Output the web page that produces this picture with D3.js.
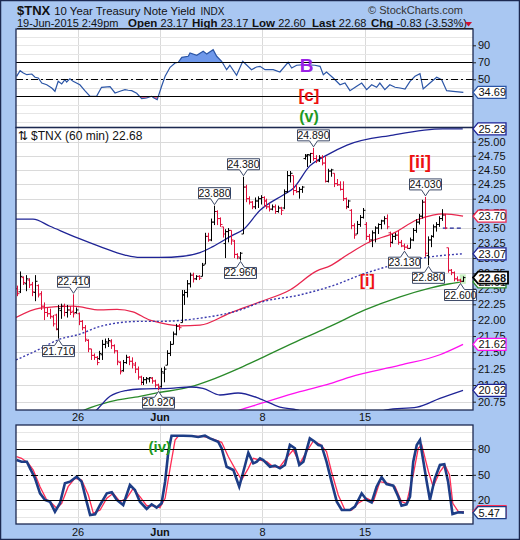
<!DOCTYPE html>
<html>
<head>
<meta charset="utf-8">
<script src="https://cdn.jsdelivr.net/npm/d3@7/dist/d3.min.js"></script>
<style>
html,body{margin:0;padding:0;background:#fff;}
svg{display:block;}
text{font-family:"Liberation Sans",Arial,Helvetica,sans-serif;}
</style>
</head>
<body>
<svg id="chart" width="520" height="540"></svg>
<script>
// ================= DATA =================
const dayTickIdx = [21, 49, 84, 119];
const dayTickLabels = ["26", "Jun", "8", "15"];
const priceTicks = [20.75, 21.00, 21.25, 21.50, 21.75, 22.00, 22.25, 22.50, 22.75, 23.00, 23.25, 23.50, 23.75, 24.00, 24.25, 24.50, 24.75, 25.00];
const rsiTicks = [90, 70, 50];
const stochTicks = [80, 50, 20];
const rsiLevels = [70, 50, 30];
const stochLevels = [80, 50, 20];

// hourly OHLC bars (20-May .. 19-Jun 2015)
const opens = [
22.50,22.45,22.68,22.58,22.64,22.57,22.44,
22.55,22.42,22.22,22.12,22.10,22.05,22.08,
21.86,22.15,22.22,22.12,22.16,22.14,22.12,
22.10,21.98,21.88,21.68,21.55,21.45,21.42,
21.40,21.46,21.62,21.64,21.66,21.60,21.52,
21.34,21.22,21.34,21.42,21.36,21.30,21.24,
21.12,21.04,21.08,21.09,21.10,21.06,21.00,
20.98,21.18,21.30,21.48,21.62,21.78,21.90,
21.96,22.40,22.44,22.58,22.72,22.66,22.70,
22.70,22.90,23.36,23.30,23.60,23.78,23.66,
23.52,23.24,23.44,23.46,23.28,23.06,23.00,
23.40,24.20,24.00,23.94,23.86,23.96,24.00,
24.02,23.96,23.86,23.82,23.86,23.78,23.84,
23.84,24.12,24.40,24.40,24.14,24.12,24.16,
24.70,24.74,24.76,24.79,24.70,24.66,24.72,
24.62,24.30,24.48,24.44,24.26,24.24,24.16,
24.00,23.86,23.80,23.54,23.40,23.56,23.68,
23.56,23.36,23.30,23.42,23.50,23.56,23.62,
23.66,23.42,23.26,23.36,23.38,23.26,23.20,
23.18,23.16,23.30,23.46,23.60,23.70,23.94,
23.04,23.30,23.36,23.52,23.56,23.66,23.72,
23.17,22.80,22.76,22.66,22.64,22.62];
const highs = [
22.55,22.78,22.70,22.72,22.67,22.61,22.72,
22.57,22.46,22.28,22.20,22.18,22.08,22.10,
22.24,22.26,22.26,22.24,22.22,22.41,22.20,
22.12,22.00,21.92,21.70,21.55,21.48,21.44,
21.52,21.69,21.71,21.72,21.70,21.62,21.53,
21.36,21.38,21.46,21.44,21.42,21.35,21.28,
21.14,21.12,21.12,21.12,21.12,21.08,21.02,
21.26,21.28,21.53,21.67,21.82,21.94,21.94,
22.48,22.48,22.64,22.76,22.76,22.72,22.72,
22.92,23.42,23.42,23.66,23.88,23.80,23.68,
23.52,23.48,23.50,23.46,23.30,23.08,23.10,
24.38,24.24,24.04,23.96,24.02,24.04,24.06,
24.04,24.00,23.92,23.90,23.90,23.88,23.86,
24.16,24.48,24.48,24.40,24.24,24.20,24.22,
24.78,24.78,24.80,24.89,24.76,24.76,24.76,
24.74,24.52,24.52,24.44,24.34,24.30,24.30,
24.02,23.98,23.82,23.58,23.62,23.72,23.84,
23.60,23.40,23.46,23.53,23.58,23.64,23.70,
23.73,23.44,23.40,23.42,23.46,23.30,23.24,
23.22,23.34,23.50,23.65,23.74,23.98,24.03,
23.36,23.38,23.56,23.60,23.70,23.82,23.74,
23.17,22.82,22.78,22.70,22.66,22.70];
const lows = [
22.38,22.43,22.56,22.46,22.51,22.38,22.30,
22.36,22.16,22.00,22.05,22.02,21.90,21.84,
21.71,22.02,22.06,22.04,22.08,22.04,22.10,
21.92,21.84,21.66,21.50,21.38,21.38,21.30,
21.38,21.38,21.56,21.58,21.55,21.48,21.30,
21.16,21.20,21.32,21.30,21.25,21.18,21.08,
21.00,21.00,21.02,21.04,21.02,20.96,20.92,
20.96,21.04,21.30,21.44,21.62,21.76,21.84,
21.96,22.24,22.36,22.52,22.60,22.64,22.64,
22.70,22.90,23.27,23.28,23.55,23.55,23.52,
23.34,23.00,23.26,23.22,23.00,22.98,22.96,
23.40,23.94,23.90,23.82,23.82,23.84,23.90,
23.86,23.82,23.78,23.80,23.74,23.76,23.72,
23.82,24.10,24.28,24.06,24.10,24.00,24.10,
24.68,24.55,24.62,24.66,24.62,24.64,24.58,
24.28,24.28,24.38,24.20,24.22,24.14,23.96,
23.82,23.84,23.48,23.32,23.40,23.52,23.66,
23.30,23.26,23.18,23.26,23.40,23.48,23.56,
23.48,23.18,23.24,23.30,23.22,23.18,23.13,
23.15,23.16,23.28,23.42,23.56,23.66,23.02,
22.88,23.18,23.34,23.44,23.52,23.62,23.48,
22.76,22.72,22.62,22.62,22.60,22.61];
const closes = [
22.42,22.70,22.60,22.66,22.56,22.45,22.62,
22.40,22.22,22.12,22.10,22.06,21.94,21.85,
22.18,22.22,22.12,22.16,22.12,22.10,22.16,
21.98,21.88,21.70,21.55,21.45,21.42,21.34,
21.48,21.62,21.66,21.68,21.60,21.52,21.36,
21.20,21.34,21.42,21.36,21.32,21.24,21.12,
21.04,21.08,21.10,21.11,21.06,21.00,20.96,
21.20,21.24,21.48,21.62,21.78,21.90,21.88,
22.40,22.44,22.58,22.72,22.66,22.70,22.67,
22.88,23.36,23.30,23.60,23.78,23.66,23.56,
23.40,23.44,23.46,23.30,23.06,23.02,23.08,
24.20,24.00,23.94,23.86,23.96,24.00,24.02,
23.96,23.86,23.82,23.86,23.78,23.84,23.80,
24.12,24.40,24.44,24.14,24.12,24.16,24.20,
24.76,24.77,24.79,24.70,24.66,24.72,24.62,
24.30,24.48,24.50,24.26,24.24,24.16,24.00,
23.86,23.96,23.54,23.38,23.56,23.68,23.80,
23.36,23.30,23.42,23.50,23.56,23.62,23.66,
23.52,23.26,23.36,23.38,23.26,23.20,23.18,
23.16,23.30,23.46,23.60,23.70,23.94,23.08,
23.30,23.36,23.52,23.56,23.66,23.72,23.50,
22.80,22.76,22.66,22.64,22.62,22.68];

// labelled highs / lows
const calloutIdx  = [19, 14, 48, 67, 76, 77, 101, 139, 132, 140, 151];
const calloutVal  = [22.41, 21.71, 20.92, 23.88, 22.96, 24.38, 24.89, 24.03, 23.13, 22.88, 22.60];
const calloutHigh = [true, false, false, true, false, true, true, true, false, false, false];

const prevClose = 23.50;

// overlays: [position, value]
const upperBand = [[0,23.65],[5.8,23.65],[11.6,23.53],[21.2,23.33],[28.7,23.19],[37.2,23.05],[42.3,23.01],[49.1,23.01],[57,23.03],[62.8,23.09],[67.2,23.19],[74,23.38],[77.5,23.47],[83.3,23.80],[91.1,24.06],[94.5,24.17],[100.3,24.57],[106.1,24.76],[113,24.94],[128.7,25.12],[145.7,25.23],[152.5,25.23]];
const lowerBand = [[22,20.40],[27.6,20.63],[32.1,20.83],[37.9,20.92],[42.3,20.94],[52.6,20.95],[59.4,20.97],[63.8,20.95],[69.6,20.85],[75.8,20.88],[82.3,20.81],[84,20.78],[90.1,20.67],[95.9,20.63],[105,20.48],[116,20.50],[126.6,20.63],[136.9,20.67],[144.7,20.80],[152.6,20.92]];
const redMA = [[0,22.04],[8.2,22.19],[19.5,22.22],[28.7,22.16],[34.5,22.17],[39.9,22.13],[45.7,22.00],[49.1,21.96],[56,21.91],[62.8,21.92],[73,22.11],[83.3,22.29],[93.5,22.48],[102.7,22.79],[107.2,22.87],[113,23.05],[120.8,23.27],[128.7,23.41],[136.9,23.64],[142.3,23.72],[145.7,23.74],[152.6,23.70]];
const dottedMA = [[0,21.38],[8.2,21.55],[14.3,21.69],[21.8,21.78],[28.7,21.90],[35.5,21.96],[42.3,21.98],[49.1,21.98],[62.8,22.03],[76.5,22.16],[83.3,22.28],[96.9,22.40],[110.6,22.59],[117.4,22.72],[125.3,22.84],[138.9,23.00],[152.6,23.07]];
const greenMA = [[18,20.52],[23.5,20.63],[32.1,20.75],[42.3,20.83],[48.1,20.88],[59.4,20.97],[66.2,21.07],[76.5,21.26],[83.3,21.40],[96.9,21.69],[107.2,21.90],[119.1,22.16],[131.1,22.37],[141.3,22.51],[148.1,22.58],[152.6,22.61]];
const magentaMA = [[70,20.55],[76.5,20.63],[83.3,20.72],[96.9,20.90],[107.2,21.02],[114,21.12],[131.1,21.30],[144.7,21.46],[152.6,21.62]];

const rsi = [[0.2,53.5],[1.4,60.1],[2.5,57.4],[3.7,55.4],[5.4,56.2],[6.5,52.4],[7.6,51.5],[8.8,45.6],[10.5,43.6],[12.2,39.8],[13.3,35.9],[14.4,47.6],[15.6,44.5],[16.7,49.5],[17.3,46.8],[18.4,50.7],[19.5,47.6],[21.8,43.6],[23.5,36.6],[25.3,30.0],[27.5,30.0],[29.2,40.6],[32.1,41.3],[33.8,33.9],[35.5,35.9],[37.2,37.8],[38.3,37.1],[39.5,36.6],[41.2,33.5],[42.9,27.2],[44.6,28.0],[46.3,30.0],[47.1,28.0],[48.2,26.0],[49.7,41.8],[50.9,53.5],[52.6,64.1],[54.3,69.2],[55.4,70.0],[56.6,75.9],[58.8,77.1],[59.4,80.9],[61.7,78.2],[63.9,82.9],[65.1,79.8],[67.3,84.8],[68.5,77.1],[70.2,71.2],[71.9,61.3],[73.0,66.5],[75.3,54.7],[77.4,71.2],[80.4,61.3],[82.1,64.5],[83.3,65.3],[85.0,61.3],[87.8,61.3],[90.1,58.6],[92.9,70.0],[94.1,63.3],[95.8,66.5],[98.6,67.2],[102.0,66.5],[103.8,65.3],[104.9,55.4],[106.0,58.6],[108.3,51.5],[110.6,43.6],[112.3,45.6],[114.0,36.6],[116.3,41.8],[118.0,45.6],[119.7,37.8],[121.4,43.6],[123.1,40.6],[124.2,45.6],[125.9,37.8],[127.6,43.6],[129.4,40.6],[131.1,39.8],[132.8,38.6],[134.5,47.6],[136.2,53.5],[137.9,56.6],[139.0,38.6],[141.3,45.6],[143.6,52.4],[145.3,49.5],[147.0,36.6],[149.2,35.9],[152.7,34.69]];

const stochK = [[0.2,67.4],[1.9,65.4],[3.7,65.4],[4.8,57.6],[6.5,45.9],[8.2,28.2],[9.9,20.4],[11.6,18.4],[13.3,6.6],[15.0,16.5],[16.7,40.0],[18.4,41.9],[20.7,47.8],[22.4,41.9],[24.1,18.4],[25.3,2.7],[27.0,3.5],[28.7,14.5],[31.0,28.2],[32.7,29.4],[34.4,20.4],[36.6,14.5],[38.9,38.0],[40.6,32.1],[42.3,18.4],[44.6,9.8],[46.3,15.3],[48.0,11.3],[49.7,16.5],[50.9,41.9],[52.0,77.2],[53.1,96.0],[57.1,96.0],[60.0,95.6],[62.2,94.5],[64.5,96.0],[66.2,92.9],[69.0,88.9],[70.2,81.2],[71.9,59.5],[74.2,55.6],[76.2,36.0],[77.6,53.6],[79.3,76.0],[81.0,63.5],[82.2,65.4],[83.3,69.4],[84.4,67.4],[86.7,59.5],[88.4,60.7],[90.1,57.6],[91.8,61.5],[93.5,85.1],[95.2,81.2],[96.7,61.5],[98.1,65.4],[100.3,92.9],[102.0,88.9],[103.2,85.1],[104.3,84.2],[106.0,65.4],[107.7,41.9],[109.5,18.4],[111.2,8.6],[114.0,8.6],[115.7,12.5],[118.0,28.2],[119.7,20.4],[121.4,17.6],[123.1,36.0],[124.8,47.1],[126.5,39.2],[128.8,37.2],[130.5,24.2],[131.6,13.6],[133.3,15.3],[134.5,24.2],[135.6,65.4],[136.8,85.1],[137.9,90.9],[138.8,71.3],[140.2,41.9],[141.3,20.4],[143.0,45.9],[144.7,61.5],[146.2,62.4],[147.5,41.9],[149.0,3.9],[151.0,5.9],[152.9,5.47]];
const stochD = [[0.2,71.3],[1.9,69.4],[4.2,63.5],[5.9,55.6],[8.2,36.0],[10.5,20.4],[12.2,16.5],[13.9,10.6],[15.6,16.5],[17.8,36.0],[20.1,45.9],[22.4,43.9],[24.7,26.2],[26.4,4.7],[28.7,8.6],[31.0,22.4],[33.2,28.2],[35.5,18.4],[37.8,22.4],[40.0,34.1],[42.3,24.2],[44.6,13.6],[46.9,13.6],[49.1,11.3],[50.9,22.4],[52.6,57.6],[54.3,90.9],[55.4,95.6],[60.0,95.3],[63.9,95.3],[67.3,91.9],[70.2,88.2],[72.5,71.3],[74.7,57.6],[77.0,43.9],[79.3,57.6],[81.0,69.4],[83.3,67.4],[85.6,65.4],[87.8,59.5],[90.1,59.5],[92.2,69.4],[94.6,79.2],[96.9,63.5],[99.2,77.2],[101.5,89.8],[103.8,85.9],[106.0,77.2],[107.7,53.6],[110.0,26.2],[112.3,8.6],[114.6,8.6],[116.8,16.5],[119.7,22.4],[122.0,18.4],[124.2,41.9],[127.1,40.0],[129.4,36.0],[131.6,18.4],[133.3,16.5],[135.6,49.8],[137.3,81.2],[138.5,85.1],[140.8,53.6],[142.4,36.0],[144.7,53.6],[146.4,61.5],[148.0,49.8],[149.1,16.5],[151.0,6.6],[152.9,6.6]];

// wave annotations: [text, position, value, panel, colour, size]
const waveLabels = [
  ["B", 99.2, 67.2, "rsi", "#9a22e6", 19],
  ["[c]", 100.0, 31.9, "rsi", "#ee1010", 17],
  ["(v)", 100.0, 6.3, "rsi", "#1f9a1f", 16],
  ["[ii]", 137.9, 24.64, "price", "#ee1010", 18],
  ["[i]", 119.9, 22.64, "price", "#ee1010", 16],
  ["(iv)", 49.1, 83.1, "stoch", "#1f9a1f", 15]
];

const headerTitle = ["$TNX", "10 Year Treasury Note Yield", "INDX"];
const headerStats = [["Open","23.17"],["High","23.17"],["Low","22.60"],["Last","22.68"],["Chg","-0.83 (-3.53%)"]];
const headerDate = "19-Jun-2015 2:49pm";

// ================= LAYOUT =================
const W = 520, H = 540, L = 16, R = 473;
const P = { rsi: [29, 127.5], price: [127.5, 410], stoch: [425, 524] };
const svg = d3.select("#chart");
const X = d3.scaleLinear().domain([0, 156]).range([L, R]);
const Y = d3.scaleLog().domain([20.75, 25]).range([401.7, 141.7]);
const RY = d3.scaleLinear().domain([0, 100]).range([121.8, 36.8]);
const SY = d3.scaleLinear().domain([0, 100]).range([517.3, 432.3]);

const NAVY = "#1f2496", RED = "#e0103c", FRAME = "#1c2951", GRID = "#dadada";

svg.append("rect").attr("width", W).attr("height", H).attr("fill", "#a9c7f2");
const defs = svg.append("defs");
Object.entries(P).forEach(([k, [t, b]]) => {
  defs.append("clipPath").attr("id", "clip-" + k).append("rect")
    .attr("x", L).attr("y", t).attr("width", R - L).attr("height", b - t);
  svg.append("rect").attr("x", L).attr("y", t).attr("width", R - L).attr("height", b - t).attr("fill", "#fff");
});
defs.append("clipPath").attr("id", "clip-rsi-hi").append("rect")
  .attr("x", L).attr("y", P.rsi[0]).attr("width", R - L).attr("height", RY(70) - P.rsi[0]);
defs.append("clipPath").attr("id", "clip-rsi-lo").append("rect")
  .attr("x", L).attr("y", RY(30)).attr("width", R - L).attr("height", P.rsi[1] - RY(30));

// ---------- grids ----------
const grid = svg.append("g");
Object.entries(P).forEach(([k, [t, b]]) => {
  grid.selectAll(null).data(dayTickIdx).join("line")
    .attr("x1", d => Math.round(X(d)) + 0.5).attr("x2", d => Math.round(X(d)) + 0.5)
    .attr("y1", t).attr("y2", b).attr("stroke", GRID);
});
grid.selectAll(null).data(priceTicks).join("line")
  .attr("x1", L).attr("x2", R).attr("y1", d => Math.round(Y(d)) + 0.5).attr("y2", d => Math.round(Y(d)) + 0.5)
  .attr("stroke", GRID);
const tens = d3.range(0, 101, 10);
grid.selectAll(null).data(tens).join("line")
  .attr("x1", L).attr("x2", R).attr("y1", d => Math.round(RY(d)) + 0.5).attr("y2", d => Math.round(RY(d)) + 0.5)
  .attr("stroke", "#e6e6e6");
grid.selectAll(null).data(tens).join("line")
  .attr("x1", L).attr("x2", R).attr("y1", d => Math.round(SY(d)) + 0.5).attr("y2", d => Math.round(SY(d)) + 0.5)
  .attr("stroke", "#e6e6e6");

function levels(scale, vals) {
  svg.append("g").selectAll(null).data(vals).join("line")
    .attr("x1", L).attr("x2", R)
    .attr("y1", d => Math.round(scale(d)) + 0.5).attr("y2", d => Math.round(scale(d)) + 0.5)
    .attr("stroke", "#000").attr("stroke-width", 1.2)
    .attr("stroke-dasharray", d => d === 50 ? "7,3,2,3" : null);
}

// ---------- RSI panel ----------
const rsiG = svg.append("g").attr("clip-path", "url(#clip-rsi)");
const rx = d => X(d[0]);
rsiG.append("path").datum(rsi).attr("clip-path", "url(#clip-rsi-hi)")
  .attr("d", d3.area().x(rx).y0(RY(70)).y1(d => RY(d[1])))
  .attr("fill", "#6f98ea");
rsiG.append("path").datum(rsi).attr("clip-path", "url(#clip-rsi-lo)")
  .attr("d", d3.area().x(rx).y0(RY(30)).y1(d => RY(d[1])))
  .attr("fill", "#ee6f92");
levels(RY, rsiLevels);
rsiG.append("path").datum(rsi).attr("d", d3.line().x(rx).y(d => RY(d[1])))
  .attr("fill", "none").attr("stroke", "#2b55a6").attr("stroke-width", 1.2);

// ---------- price panel ----------
const pg = svg.append("g").attr("clip-path", "url(#clip-price)");
const ov = (data, color, w, dash) => pg.append("path").datum(data)
  .attr("d", d3.line().curve(d3.curveMonotoneX).x(rx).y(d => Y(d[1])))
  .attr("fill", "none").attr("stroke", color).attr("stroke-width", w).attr("stroke-dasharray", dash || null);
ov(magentaMA, "#ff10f0", 1.3);
ov(greenMA, "#2a8a2a", 1.3);
ov(lowerBand, NAVY, 1.3);
ov(upperBand, NAVY, 1.3);
ov(redMA, "#e8264e", 1.3);
ov(dottedMA, "#3a3aae", 1.4, "2,2");
pg.append("line").attr("x1", X(145.7)).attr("x2", X(152.6))
  .attr("y1", Y(prevClose)).attr("y2", Y(prevClose))
  .attr("stroke", NAVY).attr("stroke-width", 1.2).attr("stroke-dasharray", "4,3");

// last-bar highlight
const lastI = closes.length - 1;
pg.append("rect").attr("x", X(lastI + 0.5) - 3).attr("width", 6)
  .attr("y", Y(highs[lastI]) - 2).attr("height", Y(lows[lastI]) - Y(highs[lastI]) + 4)
  .attr("fill", "#c9efc1");

const bars = pg.append("g");
closes.forEach((c, i) => {
  const up = i === 0 ? c >= opens[i] : c >= closes[i - 1];
  const col = up ? "#000" : RED;
  const cx = Math.round(X(i + 0.5)) + 0.5;
  bars.append("line").attr("x1", cx).attr("x2", cx).attr("y1", Y(highs[i])).attr("y2", Y(lows[i])).attr("stroke", col);
  bars.append("line").attr("x1", cx - 2).attr("x2", cx).attr("y1", Y(opens[i])).attr("y2", Y(opens[i])).attr("stroke", col);
  bars.append("line").attr("x1", cx).attr("x2", cx + 2).attr("y1", Y(c)).attr("y2", Y(c)).attr("stroke", col);
});

// callouts
const cg = svg.append("g");
calloutIdx.forEach((idx, k) => {
  const v = calloutVal[k], hi = calloutHigh[k];
  const cx = Math.round(X(idx + 0.5)) + 0.5;
  const tip = Y(v) + (hi ? -1 : 1);
  const w = 32, h = 11, gap = 6;
  const x0 = cx - w / 2, x1 = cx + w / 2;
  let d, yb;
  if (hi) {
    yb = tip - gap; const yt = yb - h;
    d = `M${x0},${yt}H${x1}V${yb}H${cx + 4}L${cx},${tip}L${cx - 4},${yb}H${x0}Z`;
  } else {
    const yt = tip + gap; yb = yt + h;
    d = `M${x0},${yt}H${cx - 4}L${cx},${tip}L${cx + 4},${yt}H${x1}V${yb}H${x0}Z`;
  }
  cg.append("path").attr("d", d).attr("fill", "#fff").attr("stroke", "#3d4a68");
  cg.append("text").attr("x", cx).attr("y", yb - 2).attr("text-anchor", "middle")
    .attr("font-size", 10.5).attr("fill", "#111").text(d3.format(".3f")(v));
});

// legend
svg.append("text").attr("x", 18).attr("y", 140).attr("font-size", 12)
  .attr("font-family", "DejaVu Sans").text("⇅");
svg.append("text").attr("x", 31).attr("y", 140).attr("font-size", 12).attr("fill", "#111")
  .text(`${headerTitle[0]} (60 min) ${closes[lastI].toFixed(2)}`);

// ---------- stochastic panel ----------
const sg = svg.append("g").attr("clip-path", "url(#clip-stoch)");
levels(SY, stochLevels);
sg.append("path").datum(stochD).attr("d", d3.line().x(rx).y(d => SY(d[1])))
  .attr("fill", "none").attr("stroke", "#ff2d55").attr("stroke-width", 1.3);
sg.append("path").datum(stochK).attr("d", d3.line().x(rx).y(d => SY(d[1])))
  .attr("fill", "none").attr("stroke", "#1d3d86").attr("stroke-width", 2.6);

// ---------- wave labels ----------
const panelScale = { rsi: RY, price: Y, stoch: SY };
waveLabels.forEach(([t, p, v, panel, col, size]) => {
  svg.append("text").attr("x", X(p)).attr("y", panelScale[panel](v)).attr("dy", "0.36em")
    .attr("text-anchor", "middle").attr("font-weight", "bold").attr("font-size", size)
    .attr("fill", col).text(t);
});

// ---------- frames ----------
Object.values(P).forEach(([t, b]) => {
  svg.append("rect").attr("x", L).attr("y", t).attr("width", R - L).attr("height", b - t)
    .attr("fill", "none").attr("stroke", FRAME).attr("stroke-width", 1.3);
});

// ---------- axes ----------
function styleAxis(g) {
  g.select(".domain").remove();
  g.selectAll(".tick line").attr("stroke", "#222");
  g.selectAll("text").attr("font-size", 11).attr("fill", "#111")
    .attr("font-family", '"Liberation Sans", Arial, sans-serif');
}
svg.append("g").attr("transform", `translate(${R},0)`)
  .call(d3.axisRight(Y).tickValues(priceTicks).tickFormat(d3.format(".2f")).tickSize(3).tickPadding(2))
  .call(styleAxis);
svg.append("g").attr("transform", `translate(${R},0)`)
  .call(d3.axisRight(RY).tickValues(rsiTicks).tickSize(3).tickPadding(2)).call(styleAxis);
svg.append("g").attr("transform", `translate(${R},0)`)
  .call(d3.axisRight(SY).tickValues(stochTicks).tickSize(3).tickPadding(2)).call(styleAxis);
[[P.price[1], 3], [P.stoch[1], 4]].forEach(([y, pad]) => {
  const g = svg.append("g").attr("transform", `translate(0,${y})`)
    .call(d3.axisBottom(X).tickValues(dayTickIdx).tickFormat((d, i) => dayTickLabels[i]).tickSize(0).tickPadding(pad))
    .call(styleAxis);
  g.selectAll("text").attr("font-weight", d => dayTickLabels[dayTickIdx.indexOf(d)] === "Jun" ? "bold" : "normal");
});

// ---------- value tags ----------
function tag(yc, txt, color, bold) {
  const g = svg.append("g");
  g.append("path").attr("d", `M${R},${yc}L${R + 5},${yc - 6}H${bold ? 508 : 506}V${yc + 6}H${R + 5}Z`)
    .attr("fill", "#fff").attr("stroke", color).attr("stroke-width", bold ? 1.8 : 1.3);
  g.append("text").attr("x", R + 5.5).attr("y", yc + 4).attr("font-size", 11)
    .attr("font-weight", bold ? "bold" : "normal").attr("fill", "#111").text(txt);
}
const last = a => a[a.length - 1][1];
tag(Y(last(upperBand)), last(upperBand).toFixed(2), NAVY);
tag(Y(last(redMA)), last(redMA).toFixed(2), "#e8264e");
tag(Y(last(dottedMA)), last(dottedMA).toFixed(2), NAVY);
tag(Y(last(greenMA)), last(greenMA).toFixed(2), "#2a8a2a");
tag(Y(closes[lastI]), closes[lastI].toFixed(2), "#000", true);
tag(Y(last(magentaMA)), last(magentaMA).toFixed(2), "#ff10f0");
tag(Y(last(lowerBand)), last(lowerBand).toFixed(2), NAVY);
tag(RY(last(rsi)), last(rsi).toFixed(2), "#2b55a6");
tag(SY(last(stochD)), "", "#ff2d55");
tag(SY(last(stochK)), last(stochK).toFixed(2), "#1d3d86");

// ---------- header ----------
const hd = svg.append("g").attr("fill", "#111");
const t1 = hd.append("text").attr("x", 17).attr("y", 15).attr("font-size", 13).attr("font-weight", "bold").text(headerTitle[0]);
const x2 = 17 + t1.node().getComputedTextLength() + 4;
const t2 = hd.append("text").attr("x", x2).attr("y", 15).attr("font-size", 11.4).text(headerTitle[1]);
const x3 = x2 + t2.node().getComputedTextLength() + 5;
hd.append("text").attr("x", x3).attr("y", 15).attr("font-size", 10).text(headerTitle[2]);
hd.append("text").attr("x", 463).attr("y", 14).attr("font-size", 11).attr("text-anchor", "end")
  .attr("fill", "#333").text("© StockCharts.com");
hd.append("text").attr("x", 17).attr("y", 26.5).attr("font-size", 11).text(headerDate);
const statX = [128, 192, 252, 312, 371];
headerStats.forEach(([k, v], i) => {
  const t = hd.append("text").attr("x", statX[i]).attr("y", 26.5).attr("font-size", 11.5);
  t.append("tspan").attr("font-weight", "bold").text(k + " ");
  t.append("tspan").attr("font-size", 11).text(v);
});
hd.append("path").attr("d", "M465,22H472L468.5,26.5Z").attr("fill", "#d01030");
svg.append("line").attr("x1", 17).attr("x2", R).attr("y1", 28.5).attr("y2", 28.5).attr("stroke", "#222");

// outer border
svg.append("rect").attr("x", 0.5).attr("y", 0.5).attr("width", W - 1).attr("height", H - 1)
  .attr("fill", "none").attr("stroke", "#1c2951").attr("stroke-width", 1.5);
</script>
</body>
</html>
